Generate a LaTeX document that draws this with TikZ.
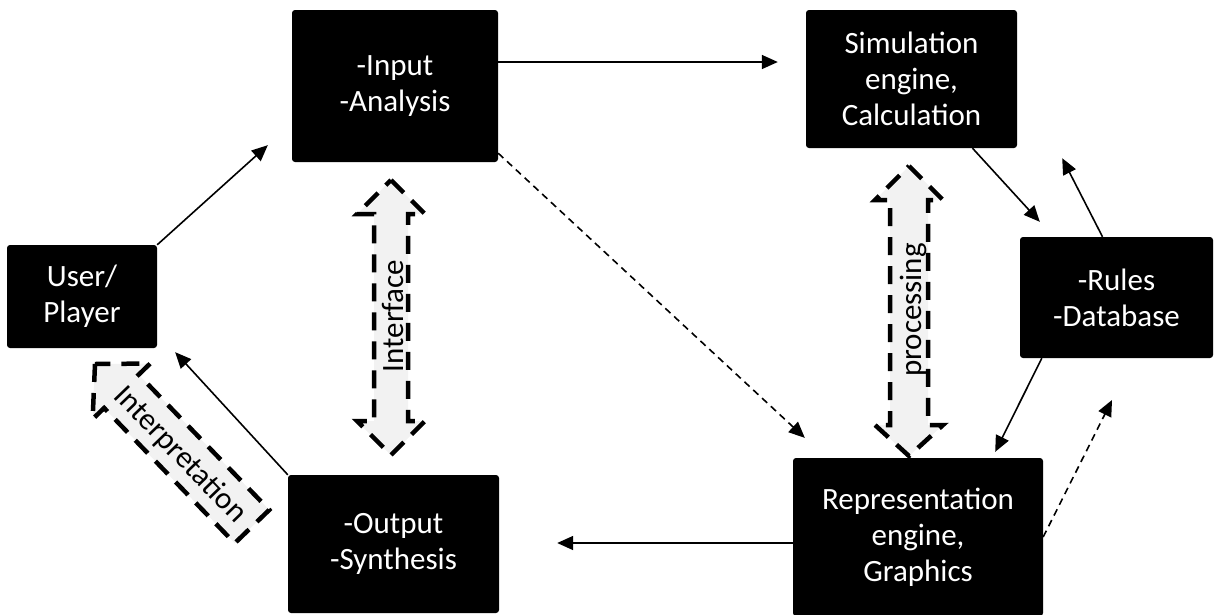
\documentclass[tikz,border=0pt]{standalone}
\usepackage{fontspec}
\setmainfont{Carlito}
\usetikzlibrary{arrows.meta,calc}
\definecolor{arrowfill}{HTML}{F2F2F2}
\begin{document}
\begin{tikzpicture}[x=1pt,y=-1pt]
\tikzset{
  box/.style={fill=black, rounded corners=3pt, text=white, align=center, inner sep=0pt,
              font=\fontsize{31}{36}\selectfont},
  conn/.style={line width=1.6pt, -{Triangle[length=16pt,width=14pt]}},
  dconn/.style={conn, dash pattern=on 7pt off 5pt},
  blockarrow/.style={fill=arrowfill, draw=black, line width=4.5pt, dash pattern=on 18pt off 11pt},
  blocklabel/.style={font=\fontsize{31}{36}\selectfont, inner sep=0pt},
}
\useasboundingbox (0,0) rectangle (1215,614);

% block arrows
\draw[blockarrow] (391,180) -- (425,214) -- (408,214) -- (408,421) -- (425,421) -- (391,455)
  -- (357,421) -- (374,421) -- (374,214) -- (357,214) -- cycle;
\node[blocklabel, rotate=90] (iface) at (393,316) {Interface};

\draw[blockarrow] (909,166) -- (943,200) -- (928,200) -- (928,425) -- (943,425) -- (909,456)
  -- (875,425) -- (890,425) -- (890,200) -- (875,200) -- cycle;
\node[blocklabel, rotate=90] (proc) at (913,310) {processing};

\begin{scope}[shift={(95,364)}, rotate=-46]
\draw[blockarrow] (0,0) -- (38,40) -- (38,24) -- (226,24) -- (226,-24) -- (38,-24) -- (38,-40) -- cycle;
\end{scope}
\node[blocklabel, rotate=-46] (interp) at (180,455) {Interpretation};

% boxes
\node[box, minimum width=150pt, minimum height=103pt] (user) at (82,296.5) {User/\\Player};
\node[box, minimum width=206pt, minimum height=152pt] (input) at (395,86) {-Input\\-Analysis};
\node[box, minimum width=211pt, minimum height=138pt] (sim) at (911.5,79) {Simulation\\engine,\\Calculation};
\node[box, minimum width=193pt, minimum height=121pt] (rules) at (1116.5,297.5) {-Rules\\-Database};
\node[box, minimum width=250pt, minimum height=158pt] (rep) at (918,537) {Representation\\engine,\\Graphics};
\node[box, minimum width=211pt, minimum height=138pt] (out) at (393.5,544) {-Output\\-Synthesis};

% connectors
\draw[conn] (user.north east) -- ($(input.south west)+(-24,-17)$);
\draw[conn] ($(input.east)+(0,-24)$) -- ($(sim.west)+(-28,-17)$);
\draw[dconn] ($(input.south east)+(0,-9)$) -- ($(rep.north west)+(12,-20)$);
\draw[conn] ($(sim.south)+(61,0)$) -- ($(rules.north west)+(20,-15)$);
\draw[conn] ($(rules.north)+(-14,0)$) -- ($(sim.south east)+(45,10)$);
\draw[conn] ($(rules.south west)+(22,0)$) -- ($(rep.north east)+(-48,-6)$);
\coordinate (free) at (1112,400);
\draw[dconn] (rep.east) -- (free);
\draw[conn] ($(rep.west)+(0,6)$) -- ($(out.east)+(58,-1)$);
\draw[conn] (out.north west) -- ($(user.south east)+(18,4)$);
\end{tikzpicture}
\end{document}
